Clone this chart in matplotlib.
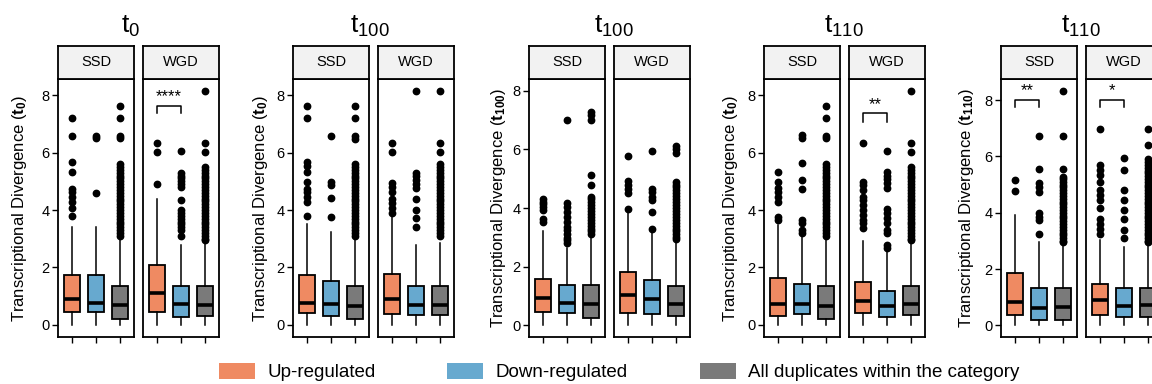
import matplotlib.pyplot as plt
from matplotlib.patches import Patch

plt.rcParams['font.family'] = ['Liberation Sans', 'DejaVu Sans']
plt.rcParams['mathtext.fontset'] = 'custom'
plt.rcParams['mathtext.rm'] = 'Liberation Sans'
plt.rcParams['mathtext.bf'] = 'Liberation Sans:bold'
plt.rcParams['mathtext.it'] = 'Liberation Sans:italic'

groups = ['Up-regulated', 'Down-regulated', 'All duplicates within the category']
colors = ['#EF8A62', '#67A9CF', '#7A7A7A']
facets = ['SSD', 'WGD']
title_subs = ['0', '100', '100', '110', '110']
ylab_subs = ['0', '0', '100', '0', '110']
ylims = [(-0.42, 8.56), (-0.42, 8.56), (-0.40, 8.40), (-0.42, 8.56), (-0.41, 8.75)]

# box statistics: panel -> facet (SSD, WGD) -> group (up, down, all)
q1 = [
    [[0.44, 0.44, 0.21], [0.44, 0.26, 0.31]],
    [[0.41, 0.31, 0.21], [0.37, 0.34, 0.34]],
    [[0.46, 0.43, 0.25], [0.42, 0.39, 0.32]],
    [[0.32, 0.38, 0.21], [0.41, 0.26, 0.34]],
    [[0.36, 0.21, 0.21], [0.36, 0.30, 0.30]],
]
med = [
    [[0.92, 0.75, 0.70], [1.12, 0.73, 0.70]],
    [[0.75, 0.72, 0.67], [0.92, 0.70, 0.70]],
    [[0.93, 0.76, 0.71], [1.02, 0.88, 0.71]],
    [[0.74, 0.72, 0.67], [0.85, 0.67, 0.72]],
    [[0.85, 0.63, 0.65], [0.91, 0.68, 0.73]],
]
q3 = [
    [[1.74, 1.74, 1.36], [2.09, 1.36, 1.36]],
    [[1.74, 1.53, 1.36], [1.76, 1.36, 1.36]],
    [[1.59, 1.37, 1.39], [1.82, 1.54, 1.34]],
    [[1.62, 1.44, 1.36], [1.51, 1.19, 1.36]],
    [[1.86, 1.34, 1.34], [1.48, 1.34, 1.34]],
]
whis_hi = [
    [[3.40, 3.40, 3.00], [4.37, 2.78, 2.85]],
    [[3.50, 3.25, 2.95], [3.75, 2.78, 2.85]],
    [[3.22, 2.62, 3.00], [3.90, 3.20, 2.90]],
    [[3.48, 3.10, 3.00], [2.93, 2.55, 2.85]],
    [[3.91, 2.95, 2.90], [3.02, 2.79, 2.90]],
]
whis_lo = [
    [[0, 0, 0], [0, 0, 0]],
    [[0, 0, 0], [0, 0, 0]],
    [[0, 0, 0], [0, 0, 0]],
    [[0, 0, 0], [0, 0, 0]],
    [[0, 0, 0], [0, 0, 0]],
]

# outliers (dense columns listed at ~0.1 steps)
dense_a = [5.6, 5.5, 5.4, 5.3, 5.2, 5.1, 5.0, 4.9, 4.8, 4.7, 4.6, 4.5, 4.4, 4.3,
           4.2, 4.1, 4.0, 3.9, 3.8, 3.7, 3.6, 3.5, 3.4, 3.3, 3.2, 3.1]
dense_b = [5.5, 5.4, 5.3, 5.2, 5.1, 5.0, 4.9, 4.8, 4.7, 4.6, 4.5, 4.4, 4.3, 4.2,
           4.1, 4.0, 3.9, 3.8, 3.7, 3.6, 3.5, 3.4, 3.3, 3.2, 3.1, 3.0, 2.95]
dense_c = [4.3, 4.2, 4.1, 4.0, 3.9, 3.8, 3.7, 3.6, 3.5, 3.4, 3.3, 3.2, 3.1]
dense_d = [4.9, 4.8, 4.7, 4.6, 4.5, 4.4, 4.3, 4.2, 4.1, 4.0, 3.9, 3.8, 3.7, 3.6,
           3.5, 3.4, 3.3, 3.2, 3.1, 3.0, 2.95]
dense_e = [5.27, 5.2, 5.1, 5.0, 4.9, 4.8, 4.7, 4.6, 4.5, 4.4, 4.3, 4.2, 4.1, 4.0,
           3.9, 3.8, 3.7, 3.6, 3.5, 3.4, 3.3, 3.2, 3.1, 3.0, 2.95]
dense_f = [5.9, 5.8, 5.7, 5.6, 5.5, 5.4, 5.3, 5.2, 5.1, 5.0, 4.9, 4.8, 4.7, 4.6,
           4.5, 4.4, 4.3, 4.2, 4.1, 4.0, 3.9, 3.8, 3.7, 3.6, 3.5, 3.4, 3.3, 3.2,
           3.1, 3.0, 2.95]

fliers = [
    [[[7.19, 6.57, 5.66, 5.33, 4.73, 4.61, 4.46, 4.29, 4.06, 3.79],
      [6.57, 6.49, 4.60],
      [7.62, 7.19, 6.57, 6.49] + dense_a],
     [[6.34, 6.03, 4.90],
      [6.06, 5.3, 5.2, 5.1, 5.0, 4.9, 4.8, 4.35, 4.0, 3.9, 3.8, 3.7, 3.6, 3.5,
       3.4, 3.3, 3.1],
      [8.15, 6.34, 6.03] + dense_b]],
    [[[7.62, 7.19, 5.66, 5.54, 5.33, 4.99, 4.73, 4.61, 4.46, 4.29, 3.79],
      [6.57, 4.99, 4.87, 4.41, 3.77],
      [7.62, 7.19, 6.57, 6.46] + dense_a],
     [[6.34, 6.03, 4.95, 4.79, 4.64, 4.37, 4.23, 4.06, 3.88],
      [8.15, 5.30, 5.18, 5.04, 4.90, 4.75, 4.37, 4.00, 3.71, 3.42],
      [8.15, 6.34, 6.03] + dense_a]],
    [[[4.32, 4.22, 4.12, 4.02, 3.92, 3.64, 3.53],
      [7.00, 4.18, 4.04, 3.87, 3.70, 3.53, 3.36, 3.24, 3.13, 2.99, 2.90, 2.79],
      [7.28, 7.17, 7.00, 5.12, 4.78, 4.38] + dense_c],
     [[5.78, 4.91, 4.80, 4.66, 4.52, 3.98],
      [5.95, 4.64, 4.53, 4.38, 4.27, 3.85, 3.30],
      [6.12, 6.00, 5.86] + dense_d]],
    [[[5.33, 4.99, 4.75, 4.61, 4.46, 4.29, 3.77, 3.65],
      [6.61, 6.49, 5.65, 5.04, 4.72, 3.65, 3.54, 3.30, 3.19],
      [7.62, 7.19, 6.57, 6.49] + dense_a],
     [[6.32, 4.99, 4.87, 4.70, 4.46, 4.35, 4.17, 4.00, 3.83, 3.65, 3.54, 3.36],
      [6.06, 5.31, 5.19, 5.07, 4.93, 4.75, 4.02, 3.88, 3.71, 3.56, 3.30, 3.19,
       2.78, 2.67],
      [8.15, 6.32, 6.03] + dense_b]],
    [[[5.18, 4.78],
      [6.72, 5.57, 5.06, 4.90, 4.74, 4.00, 3.85, 3.73, 3.26],
      [8.33, 6.72, 5.57] + dense_e],
     [[6.99, 5.69, 5.51, 5.33, 5.10, 4.82, 4.62, 4.44, 4.18, 3.79, 3.61, 3.44,
       3.26],
      [5.93, 5.51, 4.80, 4.44, 4.09, 3.79, 3.38, 3.12],
      [6.99, 6.40] + dense_f]],
]

# significance brackets (up vs down)
sig_panel = [0, 3, 4, 4]
sig_facet = [1, 1, 0, 1]
sig_label = ['****', '**', '**', '*']
sig_top = [7.62, 7.36, 8.02, 8.02]
sig_drop = [0.26, 0.30, 0.28, 0.28]

# layout in pixels
W, H = 1152, 384
panel_left = [58, 293, 529, 764, 1001]
facet_w, facet_gap = 76, 9
strip_top, plot_top, plot_bottom = 46, 79, 337
title_x = [131, 370, 614, 844, 1081]
ylab_dist = [38, 33, 31, 34, 34]

fig = plt.figure(figsize=(W / 100, H / 100), dpi=100)


def px_axes(x0, x1, y0, y1):
    return fig.add_axes([x0 / W, 1 - y1 / H, (x1 - x0) / W, (y1 - y0) / H])


for p in range(5):
    for f in range(2):
        x0 = panel_left[p] + f * (facet_w + facet_gap)
        ax = px_axes(x0, x0 + facet_w, plot_top, plot_bottom)
        stats = []
        for g in range(3):
            stats.append(dict(med=med[p][f][g], q1=q1[p][f][g], q3=q3[p][f][g],
                              whislo=whis_lo[p][f][g], whishi=whis_hi[p][f][g],
                              fliers=fliers[p][f][g]))
        bp = ax.bxp(stats, positions=[1, 2, 3], widths=0.68, patch_artist=True,
                    showcaps=False,
                    boxprops=dict(edgecolor='black', linewidth=1.3),
                    medianprops=dict(color='black', linewidth=2.6),
                    whiskerprops=dict(color='black', linewidth=1.1),
                    flierprops=dict(marker='o', markersize=4.6,
                                    markerfacecolor='black',
                                    markeredgecolor='black'))
        for patch, c in zip(bp['boxes'], colors):
            patch.set_facecolor(c)
        ax.set_xlim(0.4, 3.6)
        ax.set_ylim(*ylims[p])
        ax.set_xticks([1, 2, 3])
        ax.set_xticklabels([])
        for s in ax.spines.values():
            s.set_linewidth(1.3)
        ax.tick_params(axis='x', length=4, width=1.0, color='black')
        if f == 0:
            ax.set_yticks([0, 2, 4, 6, 8])
            ax.tick_params(axis='y', length=4, width=1.0, labelsize=10.5,
                           pad=2, color='black')
            ax.set_ylabel(r'Transcriptional Divergence ($\mathbf{t_{%s}}$)'
                          % ylab_subs[p], fontsize=12)
            ax.yaxis.set_label_coords(-ylab_dist[p] / facet_w, 0.5)
            ax.yaxis.label.set_va('center')
        else:
            ax.set_yticks([])

        for i in range(len(sig_panel)):
            if sig_panel[i] == p and sig_facet[i] == f:
                top = sig_top[i]
                ax.plot([1, 1, 2, 2], [top - sig_drop[i], top, top, top - sig_drop[i]],
                        color='black', linewidth=1.1)
                ax.text(1.5, top + 0.05, sig_label[i], ha='center', va='bottom',
                        fontsize=12)

        sax = px_axes(x0, x0 + facet_w, strip_top, plot_top)
        sax.set_facecolor('#F2F2F2')
        sax.set_xticks([])
        sax.set_yticks([])
        for s in sax.spines.values():
            s.set_linewidth(1.3)
        sax.text(0.5, 0.5, facets[f], ha='center', va='center', fontsize=10.5,
                 transform=sax.transAxes)

    fig.text(title_x[p] / W, 1 - 33 / H, r'$\mathrm{t}_{%s}$' % title_subs[p],
             ha='center', va='baseline', fontsize=19)

handles = [Patch(facecolor=c, edgecolor='none') for c in colors]
fig.legend(handles, groups, loc='center', bbox_to_anchor=(619 / W, 1 - 372 / H),
           ncol=3, frameon=False, fontsize=13.5, handlelength=1.92,
           handleheight=1.0, handletextpad=0.64, columnspacing=3.84,
           borderpad=0.0)

fig.savefig('out.png', dpi=100)
